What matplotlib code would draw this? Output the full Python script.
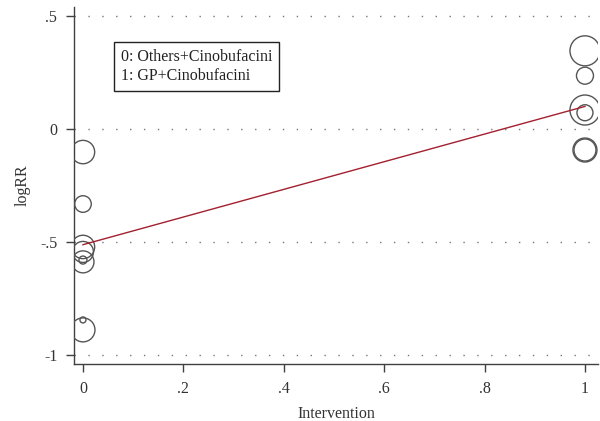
import numpy as np
import matplotlib.pyplot as plt

# Meta-regression bubble plot: logRR vs intervention
x_vals = [0, 0, 0, 0, 0, 0, 0, 0, 1, 1, 1, 1, 1, 1]
log_rr = [-0.102, -0.332, -0.522, -0.544, -0.58, -0.588, -0.845, -0.889,
          0.346, 0.236, 0.084, 0.072, -0.093, -0.093]
weights = [11.7, 8.3, 11.7, 10.5, 4.0, 11.0, 3.0, 12.0,
           15.0, 8.5, 15.0, 8.0, 12.0, 11.0]   # bubble radius (px)
fit_x = [0, 1]
fit_y = [-0.512, 0.100]

y_ticks = [-1, -0.5, 0, 0.5]
y_labels = ["-1", "-.5", "0", ".5"]
x_ticks = [0, 0.2, 0.4, 0.6, 0.8, 1]
x_labels = ["0", ".2", ".4", ".6", ".8", "1"]

plt.rcParams['font.family'] = ['Liberation Serif', 'DejaVu Serif']

fig = plt.figure(figsize=(6, 4.21), dpi=100)
ax = fig.add_axes([0.1233, 0.1354, 0.8734, 0.848])

sizes = [(2 * r * 0.72) ** 2 for r in weights]
ax.scatter(x_vals, log_rr, s=sizes, facecolors='none', edgecolors='#555555',
           linewidths=1.0, zorder=3)
ax.plot(fit_x, fit_y, color='#a3202f', lw=1.0, zorder=4)

for yt in y_ticks:
    ax.axhline(yt, color='#777777', lw=1.0, ls=(0, (1, 9)), zorder=1)

ax.set_xlim(-0.0179, 1.026)
ax.set_ylim(-1.040, 0.540)
ax.set_yticks(y_ticks)
ax.set_yticklabels(y_labels)
ax.set_xticks(x_ticks)
ax.set_xticklabels(x_labels)

for side in ['top', 'right']:
    ax.spines[side].set_visible(False)
for side in ['left', 'bottom']:
    ax.spines[side].set_color('#404040')
    ax.spines[side].set_linewidth(1.0)
ax.tick_params(direction='out', length=6, width=1.0, color='#404040',
               labelsize=11.5, labelcolor='#333333', pad=6)

ax.set_xlabel("Intervention", fontsize=11.5, color='#333333', labelpad=7)
ax.set_ylabel("logRR", fontsize=11.5, color='#333333', labelpad=7)

ax.text(0.089, 0.833, "0: Others+Cinobufacini\n1: GP+Cinobufacini",
        transform=ax.transAxes, fontsize=11.5, color='#222222',
        va='center', ha='left', linespacing=1.3,
        bbox=dict(boxstyle='square,pad=0.4', fc='white', ec='#222222', lw=1.0))

fig.savefig("out.png", dpi=100)
